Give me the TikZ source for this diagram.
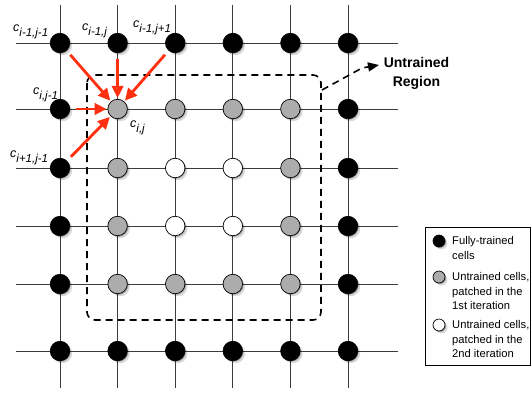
\documentclass[tikz,border=0pt]{standalone}
\usepackage{fontspec}
\setmainfont{Liberation Sans}
\usetikzlibrary{arrows.meta,shadows}
\definecolor{arrred}{RGB}{255,48,16}
\definecolor{cellgray}{RGB}{172,172,172}
\definecolor{gridcol}{RGB}{60,60,60}
\newcommand{\cellname}[1]{{\fontsize{12.5}{12.5}\selectfont\itshape c}\raisebox{-5.5pt}{\fontsize{11.5}{11.5}\selectfont\itshape #1}}
\begin{document}
\begin{tikzpicture}[x=1pt,y=-1pt,
  cellbase/.style={circle,draw=black,line width=0.7pt,minimum size=19.5pt,inner sep=0pt,
    drop shadow={shadow xshift=1pt,shadow yshift=-1pt,fill=black,opacity=0.25},
    drop shadow={shadow xshift=2.5pt,shadow yshift=-2.5pt,fill=black,opacity=0.15}},
  full/.style={cellbase,fill=black},
  first/.style={cellbase,fill=cellgray},
  second/.style={cellbase,fill=white},
  legcell/.style={cellbase,minimum size=12pt},
  gridline/.style={gridcol,line width=0.9pt},
  feed/.style={arrred,line width=2.8pt,shorten <=5.5pt,shorten >=1pt,-{Triangle[length=12pt,width=11.5pt]}},
  region/.style={black,line width=1.6pt,dash pattern=on 7pt off 5pt},
  lbl/.style={anchor=base west,inner sep=0pt},
  legtext/.style={anchor=north west,inner sep=0pt,align=left,font=\fontsize{11.2}{14.5}\selectfont},
]
\useasboundingbox (0,0) rectangle (531,392);

% grid lines
\foreach \y in {43,109,168,226,284,351}
  \draw[gridline] (16,\y) -- (398,\y);
\foreach \x in {60,117.6,175.2,232.8,290.4,348}
  \draw[gridline] (\x,5) -- (\x,388);

% untrained region
\draw[region,rounded corners=8pt] (87,75) rectangle (321,320);

% cells
\foreach \y/\sts [count=\row] in {
  43/{full,full,full,full,full,full},
  109/{full,first,first,first,first,full},
  168/{full,first,second,second,first,full},
  226/{full,first,second,second,first,full},
  284/{full,first,first,first,first,full},
  351/{full,full,full,full,full,full}}{
  \foreach \st [count=\col] in \sts {
    \node[\st] (c\row\col) at ({\col*57.6+2.4},\y) {};
  }
}

% feeding arrows
\draw[feed] (c11) -- (c22);
\draw[feed] (c12) -- (c22);
\draw[feed] (c13) -- (c22);
\draw[feed] (c21) -- (c22);
\draw[feed] (c31) -- (c22);

% cell labels
\node[lbl] (l11) at (13,31) {\cellname{i-1,j-1}};
\node[lbl] (l12) at (82,30) {\cellname{i-1,j}};
\node[lbl] (l13) at (133,27) {\cellname{i-1,j+1}};
\node[lbl] (l21) at (33,94) {\cellname{i,j-1}};
\node[lbl] (l22) at (130,127) {\cellname{i,j}};
\node[lbl] (l31) at (10,157) {\cellname{i+1,j-1}};

% untrained region label
\node[font=\bfseries\fontsize{14}{18.5}\selectfont,align=center,anchor=north,inner sep=0pt] (ur) at (416.5,57.5) {Untrained\\Region};
\coordinate (rc) at (322,90);
\coordinate (tip) at (379,65);
\draw[region,-{Triangle[length=11pt,width=9pt]}] (rc) -- (362,68) -- (tip);

% legend
\node[draw=black,line width=0.8pt,anchor=north west,minimum width=105pt,minimum height=138pt,inner sep=0pt] (legend) at (425,227) {};
\node[legcell,fill=black] (k1) at (439,241) {};
\node[legcell,fill=cellgray] (k2) at (439,277) {};
\node[legcell,fill=white] (k3) at (439,325) {};
\node[legtext] (t1) at (452,236.6) {Fully-trained\\cells};
\node[legtext] (t2) at (452,272.6) {Untrained cells,\\patched in the\\1st iteration};
\node[legtext] (t3) at (452,320.6) {Untrained cells,\\patched in the\\2nd iteration};
\end{tikzpicture}
\end{document}
